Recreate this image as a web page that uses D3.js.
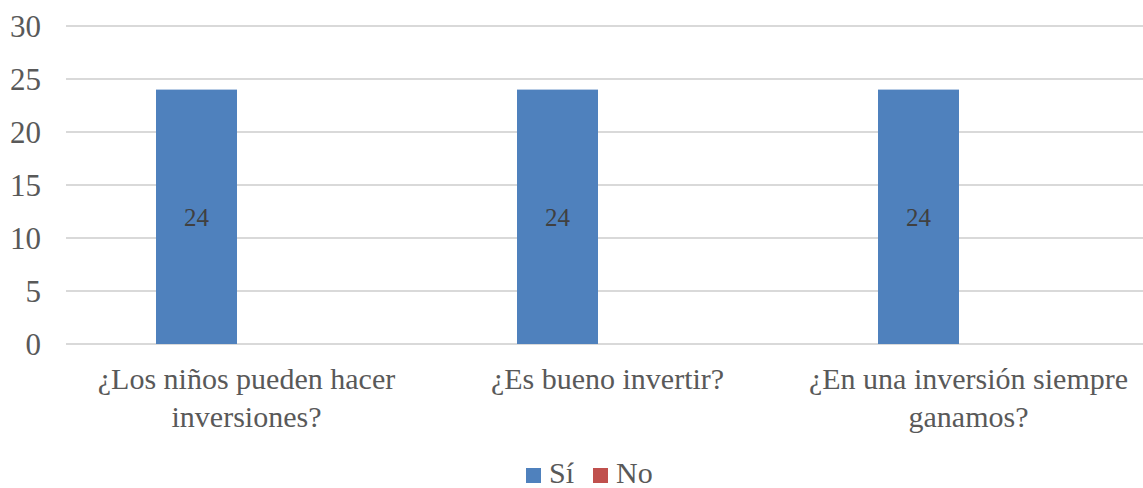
<!DOCTYPE html>
<html>
<head>
<meta charset="utf-8">
<script src="https://cdn.jsdelivr.net/npm/d3@7"></script>
<style>
  body { margin: 0; background: #fff; }
</style>
</head>
<body>
<div class="wrapper"></div>
<script>
// chart data
var categories = [
    ["¿Los niños pueden hacer", "inversiones?"],
    ["¿Es bueno invertir?"],
    ["¿En una inversión siempre", "ganamos?"]
];
var seriesNames = ["Sí", "No"];
var siValues = [24, 24, 24];
var noValues = [0, 0, 0];
var yTicks = [0, 5, 10, 15, 20, 25, 30];
var colors = ["#4F81BD", "#C0504D"];

var width = 1143,
    height = 488;
var font = "'Times New Roman', Times, Tinos, 'Liberation Serif', 'Nimbus Roman', 'Noto Serif', 'DejaVu Serif', FreeSerif, serif";

var svg = d3.select(".wrapper").append("svg")
    .attr("width", width)
    .attr("height", height)
    .style("font-family", font);

var x0 = d3.scaleBand()
    .domain(d3.range(categories.length))
    .range([66, 1149]);

// Sí bar sits left of the band centre, No bar right of it
var x1 = d3.scaleBand()
    .domain(seriesNames)
    .range([-90.5, 71.5]);

var y = d3.scaleLinear()
    .domain([0, 30])
    .range([344, 26]);

// gridlines
svg.append("g")
    .selectAll("line")
    .data(yTicks)
    .enter().append("line")
    .attr("x1", 66)
    .attr("x2", width)
    .attr("y1", function(d) { return y(d); })
    .attr("y2", function(d) { return y(d); })
    .attr("stroke", "#D9D9D9")
    .attr("stroke-width", 2);

// y tick labels
svg.append("g")
    .selectAll("text")
    .data(yTicks)
    .enter().append("text")
    .attr("x", 41)
    .attr("y", function(d) { return y(d); })
    .attr("dy", "0.35em")
    .attr("text-anchor", "end")
    .attr("font-family", font)
    .attr("font-size", 31)
    .attr("fill", "#595959")
    .text(function(d) { return d; });

var rows = categories.map(function(c, i) {
    return [{s: "Sí", v: siValues[i], c: colors[0]}, {s: "No", v: noValues[i], c: colors[1]}];
});

var groups = svg.append("g")
    .selectAll("g")
    .data(rows)
    .enter().append("g")
    .attr("transform", function(d, i) { return "translate(" + (x0(i) + x0.bandwidth() / 2) + ",0)"; });

groups.selectAll("rect")
    .data(function(d) { return d.filter(function(e) { return e.v > 0; }); })
    .enter().append("rect")
    .attr("x", function(d) { return x1(d.s); })
    .attr("width", x1.bandwidth())
    .attr("y", function(d) { return y(d.v); })
    .attr("height", function(d) { return y(0) - y(d.v); })
    .attr("fill", function(d) { return d.c; });

// data labels
groups.selectAll("text")
    .data(function(d) { return d.filter(function(e) { return e.v > 0; }); })
    .enter().append("text")
    .attr("x", function(d) { return x1(d.s) + x1.bandwidth() / 2; })
    .attr("y", function(d) { return (y(d.v) + y(0)) / 2; })
    .attr("dy", "0.35em")
    .attr("text-anchor", "middle")
    .attr("font-family", font)
    .attr("font-size", 25)
    .attr("fill", "#404040")
    .text(function(d) { return d.v; });

// category labels
svg.append("g")
    .selectAll("text")
    .data(categories)
    .enter().append("text")
    .attr("text-anchor", "middle")
    .attr("font-family", font)
    .attr("font-size", 30)
    .attr("fill", "#595959")
    .each(function(d, i) {
        var t = d3.select(this);
        d.forEach(function(line, j) {
            t.append("tspan")
                .attr("x", x0(i) + x0.bandwidth() / 2)
                .attr("y", 389 + j * 38)
                .text(line);
        });
    });

// legend
var legend = svg.append("g")
    .selectAll("g")
    .data(seriesNames)
    .enter().append("g")
    .attr("transform", function(d, i) { return "translate(" + [526, 593][i] + ",468)"; });

legend.append("rect")
    .attr("width", 15)
    .attr("height", 15)
    .attr("fill", function(d, i) { return colors[i]; });

legend.append("text")
    .attr("x", 23)
    .attr("y", 15)
    .attr("font-family", font)
    .attr("font-size", 30)
    .attr("fill", "#595959")
    .text(function(d) { return d; });
</script>
</body>
</html>
